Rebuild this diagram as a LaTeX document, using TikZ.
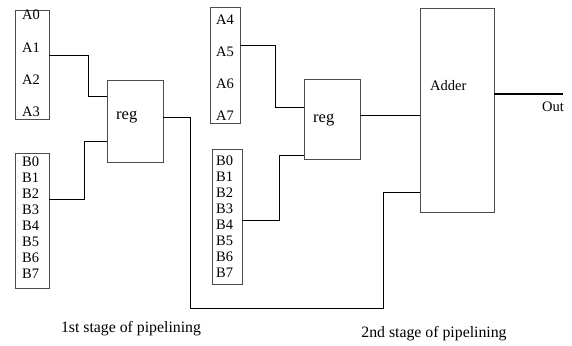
\documentclass[tikz,border=0pt]{standalone}
\usepackage{fontspec}
\setmainfont{Liberation Serif}
\begin{document}
\begin{tikzpicture}[x=1pt,y=-1pt,
  blk/.style={draw=black!70,line width=0.7pt,inner sep=0pt},
  lbl/.style={inner sep=0pt,anchor=west,font=\fontsize{14.5}{16}\selectfont},
  reglbl/.style={lbl,font=\fontsize{16.5}{18}\selectfont},
  wire/.style={draw=black,line width=0.7pt},
  stg/.style={inner sep=0pt,font=\fontsize{15.8}{18}\selectfont}]
\useasboundingbox (0,0) rectangle (572,345);
% stage 1 boxes
\node[blk,minimum width=34pt,minimum height=109pt] (abox1) at (32,64.5) {};
\node[blk,minimum width=56pt,minimum height=82pt] (reg1) at (135,121) {};
\node[blk,minimum width=34pt,minimum height=135pt] (bbox1) at (32,220.5) {};
% stage 2 boxes
\node[blk,minimum width=30pt,minimum height=116pt] (abox2) at (225,65) {};
\node[blk,minimum width=56pt,minimum height=80pt] (reg2) at (332,119) {};
\node[blk,minimum width=30pt,minimum height=135pt] (bbox2) at (227,216.5) {};
\node[blk,minimum width=74pt,minimum height=204pt] (adder) at (457,110) {};
% labels
\node[lbl] (a0) at (22,15) {A0};
\node[lbl] (a1) at (22,48) {A1};
\node[lbl] (a2) at (22,80) {A2};
\node[lbl] (a3) at (22,112) {A3};
\node[lbl] (a4) at (216,20) {A4};
\node[lbl] (a5) at (216,52) {A5};
\node[lbl] (a6) at (216,84) {A6};
\node[lbl] (a7) at (216,116) {A7};
\foreach \i in {0,...,7} {
  \node[lbl] (b1\i) at (22,{162+15.9*\i}) {B\i};
  \node[lbl] (b2\i) at (216,{161+15.9*\i}) {B\i};
}
\node[reglbl] (reglbl1) at (116,117) {reg};
\node[reglbl] (reglbl2) at (313,120) {reg};
\node[lbl] (addlbl) at (430,86) {Adder};
\node[lbl] (outlbl) at (542,107) {Out};
\node[stg] (st1) at (131,329) {1st stage of pipelining};
\node[stg] (st2) at (434,334) {2nd stage of pipelining};
% turn points
\coordinate (p1) at (88,55);
\coordinate (p2) at (84,199);
\coordinate (p3) at (190,117);
\coordinate (p4) at (383,308);
\coordinate (p5) at (275,45);
\coordinate (p6) at (279,155);
\coordinate (outend) at (563,94);
% wires
\draw[wire] (abox1.east |- p1) -- (p1) |- (reg1.west |- 0,96);
\draw[wire] (bbox1.east |- p2) -- (p2) |- (reg1.west |- 0,141);
\draw[wire] (reg1.east |- p3) -- (p3) |- (p4) |- (adder.west |- 0,192);
\draw[wire] (abox2.east |- p5) -- (p5) |- (reg2.west |- 0,107);
\draw[wire] (bbox2.east |- 0,220) -| (p6) -- (reg2.west |- p6);
\draw[wire] (reg2.east |- 0,115) -- (adder.west |- 0,115);
\draw[draw=black,line width=2pt] (adder.east |- outend) -- (outend);
\end{tikzpicture}
\end{document}
